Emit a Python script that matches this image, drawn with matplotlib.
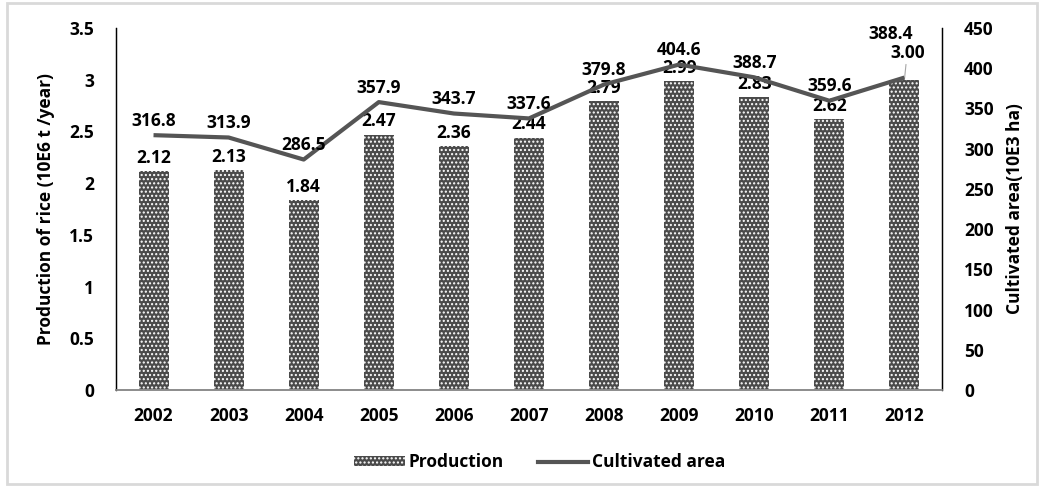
import matplotlib.pyplot as plt
from matplotlib.patches import Rectangle
from matplotlib.lines import Line2D

plt.rcParams['font.family'] = ['Open Sans', 'DejaVu Sans']
plt.rcParams['font.weight'] = 'bold'
plt.rcParams['axes.labelweight'] = 'bold'
plt.rcParams['hatch.color'] = 'white'
plt.rcParams['hatch.linewidth'] = 1.0

years = ['2002', '2003', '2004', '2005', '2006', '2007', '2008', '2009', '2010', '2011', '2012']
production = [2.12, 2.13, 1.84, 2.47, 2.36, 2.44, 2.79, 2.99, 2.83, 2.62, 3.00]
area = [316.8, 313.9, 286.5, 357.9, 343.7, 337.6, 379.8, 404.6, 388.7, 359.6, 388.4]

gray = '#555555'
bar_gray = '#4a4a4a'
fs = 12.5

fig = plt.figure(figsize=(10.42, 4.88), dpi=100)
ax = fig.add_axes([0.1113, 0.2008, 0.7927, 0.7418])
ax2 = ax.twinx()

x = list(range(len(years)))
ax.bar(x, production, width=0.4, color=bar_gray, edgecolor='white', linewidth=0,
       hatch='....', zorder=2)
ax2.plot(x, area, color=gray, lw=3, solid_capstyle='butt', zorder=3)

# value labels (last year gets a leader line, its labels sit stacked)
last = len(years) - 1
for i, v in enumerate(production):
    if i == last:
        ax.annotate(f'{v:.2f}', (i, v), xytext=(2, 13), textcoords='offset points',
                    ha='center', va='bottom', fontsize=fs,
                    arrowprops=dict(arrowstyle='-', color='#a6a6a6', lw=0.8,
                                    shrinkA=0, shrinkB=1))
    else:
        ax.annotate(f'{v:.2f}', (i, v), xytext=(0, 3), textcoords='offset points',
                    ha='center', va='bottom', fontsize=fs)
for i, v in enumerate(area):
    dx, dy = (-10, 25) if i == last else (0, 4)
    ax2.annotate(f'{v:.1f}', (i, v), xytext=(dx, dy), textcoords='offset points',
                 ha='center', va='bottom', fontsize=fs)

ax.set_xlim(-0.5, len(years) - 0.5)
ax.set_ylim(0, 3.5)
ax2.set_ylim(0, 450)
ax.set_yticks([0, 0.5, 1, 1.5, 2, 2.5, 3, 3.5])
ax.set_yticklabels(['0', '0.5', '1', '1.5', '2', '2.5', '3', '3.5'])
ax2.set_yticks(range(0, 451, 50))
ax.set_xticks(x)
ax.set_xticklabels(years)

for a in (ax, ax2):
    a.tick_params(length=0, labelsize=fs)
    for lab in a.get_xticklabels() + a.get_yticklabels():
        lab.set_fontweight('bold')
    a.spines['top'].set_visible(False)
    a.spines['left'].set_color('black')
    a.spines['right'].set_color('black')
    a.spines['left'].set_linewidth(0.9)
    a.spines['right'].set_linewidth(0.9)
    a.spines['bottom'].set_color('#8c8c8c')
    a.spines['bottom'].set_linewidth(1.2)
ax.tick_params(axis='y', pad=16)
ax2.tick_params(axis='y', pad=16)
ax.tick_params(axis='x', pad=12)

ax.set_ylabel('Production of rice (10E6 t /year)', fontsize=fs, labelpad=10)
ax2.set_ylabel('Cultivated area(10E3 ha)', fontsize=fs, labelpad=9)

handles = [Rectangle((0, 0), 1, 1, facecolor=bar_gray, edgecolor='white', lw=0, hatch='....'),
           Line2D([0], [0], color=gray, lw=3)]
fig.legend(handles, ['Production', 'Cultivated area'], loc='center',
           bbox_to_anchor=(0.518, 0.053), ncol=2, frameon=False, fontsize=fs,
           handlelength=2.9, handleheight=0.5, handletextpad=0.2, columnspacing=2.0)

fig.patches.append(Rectangle((0.007, 0.008), 0.988, 0.986, transform=fig.transFigure,
                             fill=False, edgecolor='#d9d9d9', lw=2))

fig.savefig('out.png', dpi=100)
